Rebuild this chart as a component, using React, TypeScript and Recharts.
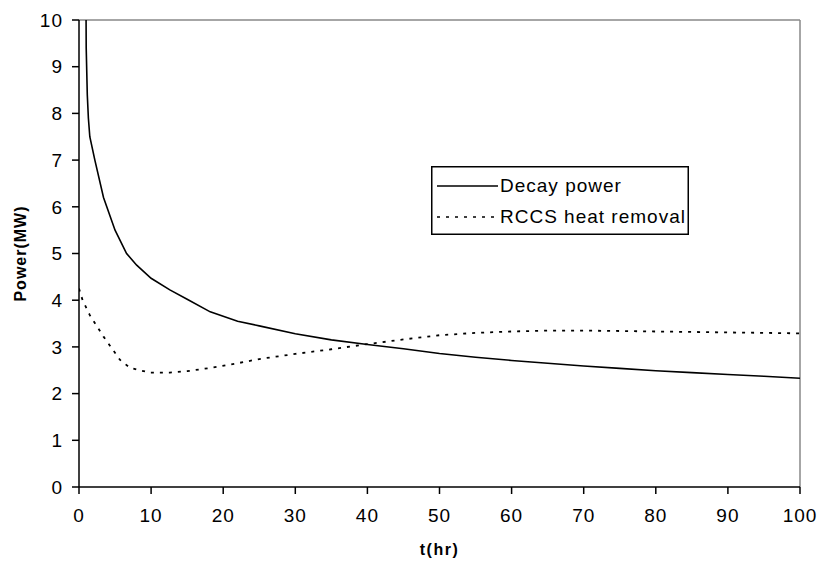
import React from 'react';
import { LineChart, Line, XAxis, YAxis, ReferenceLine, Legend } from 'recharts';

const decayT = [0.95, 1.0, 1.15, 1.3, 1.5, 2.2, 3.4, 5, 6.6, 8, 10, 12.6, 15, 18.2, 22, 25, 30, 35, 40, 45, 50, 55, 60, 65, 70, 75, 80, 85, 90, 95, 100];
const decayP = [11, 9.4, 8.4, 7.9, 7.5, 7.0, 6.2, 5.5, 5.0, 4.75, 4.47, 4.22, 4.02, 3.75, 3.55, 3.45, 3.28, 3.15, 3.05, 2.96, 2.86, 2.78, 2.71, 2.65, 2.59, 2.54, 2.49, 2.45, 2.41, 2.37, 2.33];

const rccsT = [0, 0.5, 1.5, 3.4, 5.7, 7.1, 9.8, 12.6, 15, 18.2, 22, 25, 30, 35, 40, 45, 50, 55, 60, 65, 70, 75, 80, 85, 90, 95, 100];
const rccsP = [4.25, 4.0, 3.68, 3.22, 2.72, 2.55, 2.45, 2.45, 2.48, 2.55, 2.65, 2.74, 2.85, 2.95, 3.06, 3.16, 3.25, 3.3, 3.33, 3.35, 3.35, 3.34, 3.33, 3.32, 3.31, 3.3, 3.29];

const xTicks = [0, 10, 20, 30, 40, 50, 60, 70, 80, 90, 100];
const yTicks = [0, 1, 2, 3, 4, 5, 6, 7, 8, 9, 10];
const seriesNames = ['Decay power', 'RCCS heat removal'];

const decayData = decayT.map((t, i) => ({ t, p: decayP[i] }));
const rccsData = rccsT.map((t, i) => ({ t, p: rccsP[i] }));

const FONT = '"Liberation Sans", Arial, sans-serif';

const renderLegend = () => (
  <svg width={258} height={69} style={{ display: 'block' }}>
    <rect x={0.75} y={0.75} width={256.5} height={67.5} fill="#fff" stroke="#000" strokeWidth={1.5} />
    <line x1={6} x2={67} y1={20} y2={20} stroke="#000" strokeWidth={1.5} />
    <text x={69} y={26} fontFamily={FONT} fontSize={19} letterSpacing={1} fill="#000">{seriesNames[0]}</text>
    <line x1={6} x2={67} y1={51} y2={51} stroke="#000" strokeWidth={1.5} strokeDasharray="3 6" />
    <text x={69} y={57} fontFamily={FONT} fontSize={19} letterSpacing={1} fill="#000">{seriesNames[1]}</text>
  </svg>
);

export default function App() {
  return (
    <div style={{ position: 'absolute', left: 0, top: 0, width: 818, height: 566, background: '#fff' }}>
      <LineChart width={818} height={566} margin={{ top: 20, right: 18, left: 0, bottom: 0 }}>
        <XAxis
          dataKey="t"
          type="number"
          domain={[0, 100]}
          ticks={xTicks}
          allowDataOverflow
          height={79}
          tickSize={7}
          tickMargin={15}
          axisLine={{ stroke: '#000', strokeWidth: 1.5 }}
          tickLine={{ stroke: '#000', strokeWidth: 1.5 }}
          tick={{ fill: '#000', fontSize: 19, fontFamily: FONT, letterSpacing: 1 }}
          label={{ value: 't(hr)', position: 'insideBottom', offset: 11, style: { fontFamily: FONT, fontSize: 16, letterSpacing: 1.5, fontWeight: 'bold', fill: '#000' } }}
        />
        <YAxis
          dataKey="p"
          type="number"
          domain={[0, 10]}
          ticks={yTicks}
          allowDataOverflow
          width={79}
          tickSize={7}
          tickMargin={9}
          axisLine={{ stroke: '#000', strokeWidth: 1.5 }}
          tickLine={{ stroke: '#000', strokeWidth: 1.5 }}
          tick={{ fill: '#000', fontSize: 19, fontFamily: FONT, letterSpacing: 1 }}
          label={{ value: 'Power(MW)', angle: -90, position: 'insideLeft', offset: 20, style: { textAnchor: 'middle', fontFamily: FONT, fontSize: 16, letterSpacing: 1, fontWeight: 'bold', fill: '#000' } }}
        />
        <ReferenceLine y={10} stroke="#888" strokeWidth={1.5} />
        <ReferenceLine x={100} stroke="#888" strokeWidth={1.5} />
        <Line data={decayData} dataKey="p" name={seriesNames[0]} type="linear" stroke="#000" strokeWidth={1.6} dot={false} isAnimationActive={false} />
        <Line data={rccsData} dataKey="p" name={seriesNames[1]} type="linear" stroke="#000" strokeWidth={1.8} strokeDasharray="3 6" dot={false} isAnimationActive={false} />
        <Legend
          layout="vertical"
          align="center"
          verticalAlign="middle"
          content={renderLegend}
          wrapperStyle={{ position: 'absolute', left: 431, top: 166, width: 258, height: 69 }}
        />
      </LineChart>
    </div>
  );
}
